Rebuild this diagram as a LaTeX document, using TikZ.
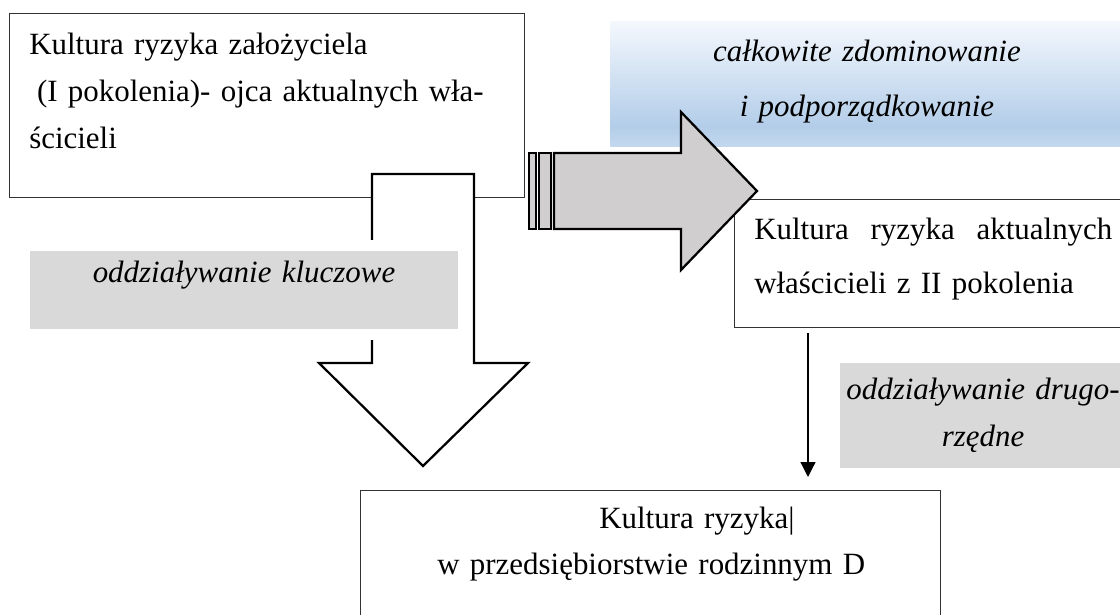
\documentclass[tikz,border=0pt]{standalone}
\usepackage{fontspec}
\setmainfont{Liberation Serif}
\usetikzlibrary{positioning,arrows.meta}
\definecolor{tagfill}{HTML}{D9D9D9}
\definecolor{arrowfill}{HTML}{D0CECE}
\definecolor{skytop}{HTML}{F4F8FD}
\definecolor{skymid}{HTML}{B3CDE9}
\definecolor{skylow}{HTML}{C3D8EE}
\pgfdeclareverticalshading{skyfade}{100bp}{color(0bp)=(skylow); color(25bp)=(skylow); color(33bp)=(skymid); color(75bp)=(skytop); color(100bp)=(skytop)}

\begin{document}
\begin{tikzpicture}[
    x=0.025cm, y=-0.025cm,
    every node/.style={font=\fontsize{22}{33}\selectfont, inner sep=0pt},
    frame/.style={draw=black!80, line width=0.7pt, fill=white, anchor=north west, outer sep=0pt},
    tag/.style={fill=tagfill, draw=white, line width=0.275cm, anchor=north west, outer sep=0pt},
    txt/.style={anchor=base west, align=left, text width=#1},
    ctr/.style={anchor=base, align=center, text width=#1},
    block/.style={draw=black, line width=1.6pt, line join=miter},
    thinarr/.style={-{Triangle[width=0.37cm,length=0.37cm]}, line width=0.9pt}
  ]
    \clip (0,0) rectangle (1120,615);
    \node[frame, minimum width=12.875cm, minimum height=4.6cm] (fnd) at (9,13) {};
    \node[txt=12cm, font=\fontsize{22}{33.1}\selectfont] (fndtxt) at ([shift={(20,42)}]fnd.north west)
      {Kultura ryzyka założyciela\\\hspace*{0.25em}(I pokolenia)- ojca aktualnych wła-\\ścicieli};
    \node[anchor=north west, shading=skyfade, minimum width=13cm, minimum height=3.125cm] (dom) at (610,21) {};
    \node[ctr=8cm, font=\fontsize{22}{39.1}\selectfont\itshape] (domtxt) at (867,62)
      {całkowite zdominowanie\\i podporządkowanie};
    \draw[block, fill=white] (372,174) -- (474,174) -- (474,363) -- (528,363) -- (423,466) -- (319,363) -- (372,363) -- cycle;
    \node[tag, minimum width=10.975cm, minimum height=2.225cm] (key) at (24.5,245.5) {};
    \node[ctr=10cm, font=\fontsize{22}{33}\selectfont\itshape] (keytxt) at (244,283) {oddziaływanie kluczowe};
    \node[frame, minimum width=9.9cm, minimum height=3.2cm] (cur) at (734,199) {};
    \node[txt=8.95cm, font=\fontsize{22}{37.7}\selectfont] (curtxt) at ([shift={(20,41)}]cur.north west)
      {Kultura\hfill ryzyka\hfill aktualnych\\właścicieli z II pokolenia};
    \draw[block, fill=arrowfill] (554,153) -- (681,153) -- (681,112) -- (757,191) -- (681,270) -- (681,229) -- (554,229) -- cycle;
    \draw[block, fill=arrowfill] (529,153) rectangle (536,229);
    \draw[block, fill=arrowfill] (539,153) rectangle (551,229);
    \node[tag, minimum width=7.525cm, minimum height=2.9cm] (sec) at (834.5,357.5) {};
    \node[ctr=7.2cm, font=\fontsize{22}{33.4}\selectfont\itshape] (sectxt) at (983,400) {oddziaływanie drugo-\\rzędne};
    \node[frame, minimum width=14.5cm, minimum height=3.75cm] (ent) at (360,490) {};
    \node[txt=12cm, font=\fontsize{22}{32.7}\selectfont] (enttxt) at ([shift={(77,39)}]ent.north west)
      {\hspace*{4.05cm}Kultura ryzyka|\\w przedsiębiorstwie rodzinnym D};
    \coordinate (tap) at (808,0);
    \draw[thinarr, shorten <=0.15cm, shorten >=0.325cm] (tap |- cur.south) -- (tap |- ent.north);
  \end{tikzpicture}
\end{document}
